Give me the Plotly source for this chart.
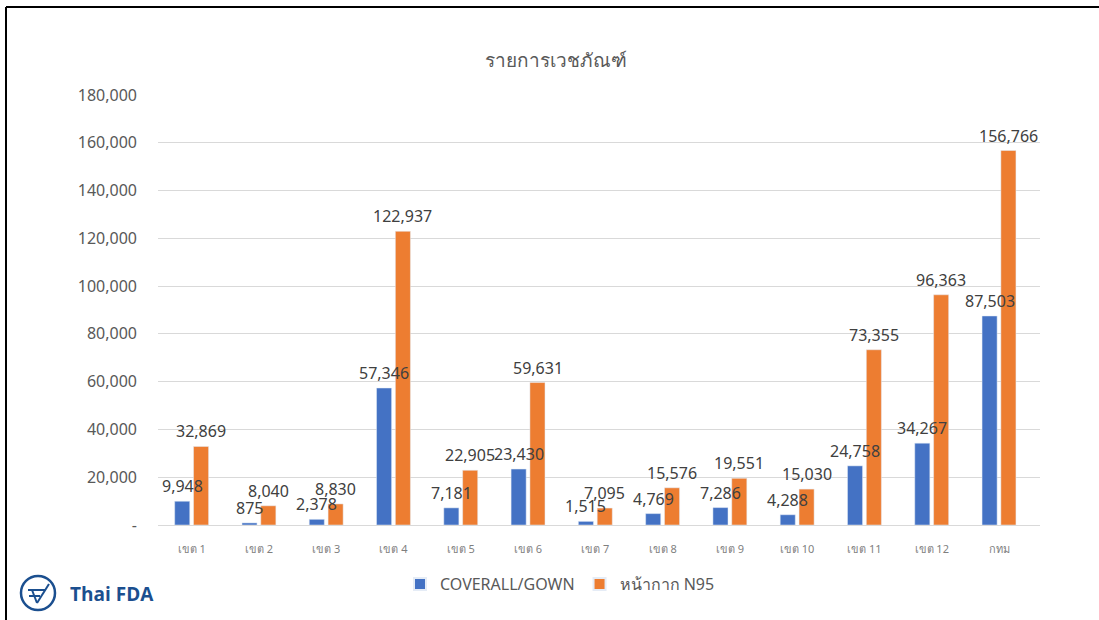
import plotly.graph_objects as go

regions = ["เขต 1", "เขต 2", "เขต 3", "เขต 4", "เขต 5", "เขต 6", "เขต 7",
           "เขต 8", "เขต 9", "เขต 10", "เขต 11", "เขต 12", "กทม"]
coverall = [9948, 875, 2378, 57346, 7181, 23430, 1515, 4769, 7286, 4288, 24758, 34267, 87503]
n95 = [32869, 8040, 8830, 122937, 22905, 59631, 7095, 15576, 19551, 15030, 73355, 96363, 156766]
y_ticks = [0, 20000, 40000, 60000, 80000, 100000, 120000, 140000, 160000, 180000]
y_ticktext = ["-"] + [f"{v:,}" for v in y_ticks[1:]]

W, H = 1099, 620
L, R, T, B = 158, 59, 95, 95
pw, ph = W - L - R, H - T - B


def px(x):
    return (x - L) / pw


def py(y):
    return (H - B - y) / ph


fig = go.Figure()
series = [("COVERALL/GOWN", coverall, "#4472C4", -9.5),
          ("หน้ากาก N95", n95, "#ED7D31", 9.5)]
for name, vals, color, _ in series:
    fig.add_trace(go.Bar(x=regions, y=vals, name=name, marker_color=color))

# data labels on top of all bars (like Excel)
for _, vals, _, shift in series:
    for r, v in zip(regions, vals):
        fig.add_annotation(x=r, y=v, text=f"{v:,}", showarrow=False,
                           xshift=shift, yshift=2, yanchor="bottom",
                           font=dict(size=16, color="#404040"))

# outer frame: only the top and left edges show
for x0, y0, x1, y1 in [(6, 7, 1099, 7), (6, 7, 6, 620)]:
    fig.add_shape(type="line", xref="paper", yref="paper",
                  x0=px(x0), y0=py(y0), x1=px(x1), y1=py(y1),
                  line=dict(color="black", width=2))

# Thai FDA logo
fig.add_shape(type="circle", xref="paper", yref="paper",
              x0=px(21), x1=px(55), y0=py(576), y1=py(610),
              line=dict(color="#1B4F8F", width=2.5))
for x0, y0, x1, y1 in [(28, 590, 45, 590), (32, 590, 37, 603), (37, 603, 49, 584),
                       (29, 596, 40, 596)]:
    fig.add_shape(type="line", xref="paper", yref="paper",
                  x0=px(x0), y0=py(y0), x1=px(x1), y1=py(y1),
                  line=dict(color="#1B4F8F", width=2))
fig.add_annotation(xref="paper", yref="paper", x=px(68), y=py(594),
                   xanchor="left", yanchor="middle", showarrow=False,
                   text="<b>Thai FDA</b>",
                   font=dict(family="Open Sans", size=19, color="#1B4F8F"))

fig.update_layout(
    width=W, height=H,
    margin=dict(l=L, r=R, t=T, b=B),
    paper_bgcolor="white", plot_bgcolor="white",
    title=dict(text="รายการเวชภัณฑ์", x=556 / W, xanchor="center",
               y=1 - 60 / H, yanchor="middle",
               font=dict(size=19, color="#595959")),
    font=dict(family="Noto Sans, DejaVu Sans, sans-serif", color="#595959"),
    barmode="group", bargap=0.44, bargroupgap=0.2,
    showlegend=True,
    legend=dict(orientation="h", x=px(560), xanchor="center", y=py(584), yanchor="middle",
                font=dict(size=16, color="#595959"), itemsizing="constant",
                itemwidth=30, traceorder="normal"),
    xaxis=dict(showgrid=False, showline=True, linecolor="#D9D9D9",
               tickfont=dict(size=11, color="#7F7F7F"), ticks="",
               ticklabelstandoff=14),
    yaxis=dict(range=[0, 180000], tickvals=y_ticks, ticktext=y_ticktext,
               showgrid=True, gridcolor="#D9D9D9", zeroline=False,
               tickfont=dict(size=16, color="#595959"), ticks="",
               ticklabelstandoff=20),
)

fig.write_html("out.html", config={"displayModeBar": False},
               post_script="document.body.style.margin='0';"
                           "document.body.style.overflow='hidden';"
                           "document.documentElement.style.overflow='hidden';")
